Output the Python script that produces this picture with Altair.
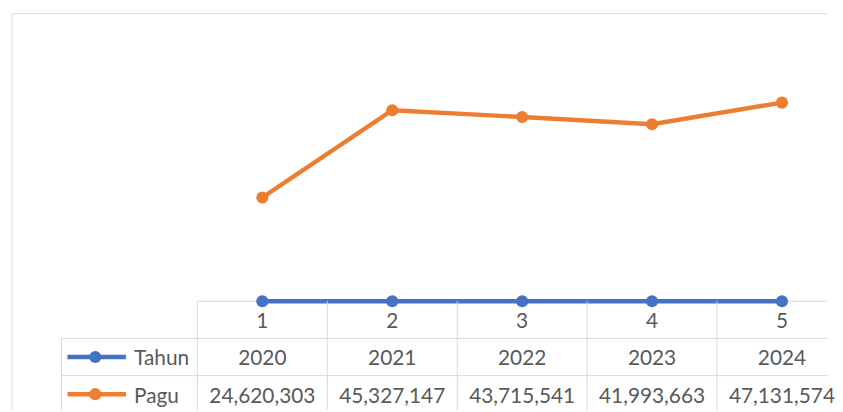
import altair as alt
import pandas as pd

# ---- data ----
idx = [1, 2, 3, 4, 5]
tahun = [2020, 2021, 2022, 2023, 2024]
pagu = [24620303, 45327147, 43715541, 41993663, 47131574]
series = ["Tahun", "Pagu"]
colors = ["#4472C4", "#ED7D31"]

# ---- layout ----
W = 827
XDOM = [-0.958, -0.958 + W / 131]
H_TOP = 294
H_TAB = 110
ROW_H = 37.5
YMAX = 69.18e6
LEG_LEFT = -0.546
FONT = "Lato"
FS = 21
TXT = "#595959"
GRID = "#d9d9d9"

long = pd.DataFrame({
    "idx": idx * 2,
    "series": ["Tahun"] * 5 + ["Pagu"] * 5,
    "value": tahun + pagu,
})

xscale = alt.Scale(domain=XDOM, nice=False, zero=False)
yscale_top = alt.Scale(domain=[0, YMAX], nice=False)
color = alt.Color("series:N", scale=alt.Scale(domain=series, range=colors), legend=None)

base_top = alt.Chart(long).encode(
    x=alt.X("idx:Q", scale=xscale, axis=None),
    y=alt.Y("value:Q", scale=yscale_top, axis=None),
    color=color,
)
lines = base_top.mark_line(strokeWidth=4.5)
points = base_top.mark_circle(size=150, opacity=1)

one = pd.DataFrame({"a": [0]})
frame_top = alt.Chart(one).mark_rule(color=GRID, strokeWidth=1).encode(
    x=alt.value(4), x2=alt.value(W), y=alt.value(4)
)
frame_left = alt.Chart(one).mark_rule(color=GRID, strokeWidth=1).encode(
    x=alt.value(4), y=alt.value(4), y2=alt.value(H_TOP)
)
tab_top = pd.DataFrame({"x0": [0.5], "x1": [XDOM[1]], "y": [0]})
table_top_rule = alt.Chart(tab_top).mark_rule(color=GRID, strokeWidth=1).encode(
    x=alt.X("x0:Q", scale=xscale, axis=None), x2="x1:Q",
    y=alt.Y("y:Q", scale=yscale_top, axis=None),
)
top = alt.layer(frame_top, frame_left, table_top_rule, lines, points).properties(width=W, height=H_TOP)

# ---- table ----
rows = ["hdr", "Tahun", "Pagu"]
row_pos = {r: i for i, r in enumerate(rows)}
yscale = alt.Scale(domain=[0, H_TAB / ROW_H], reverse=True, nice=False, zero=False)

cells = pd.DataFrame({
    "idx": idx * 3,
    "r": [row_pos["hdr"] + 0.5] * 5 + [row_pos["Tahun"] + 0.5] * 5 + [row_pos["Pagu"] + 0.5] * 5,
    "label": [str(i) for i in idx] + [str(t) for t in tahun] + [f"{p:,}" for p in pagu],
})
cell_text = alt.Chart(cells).mark_text(
    font=FONT, fontSize=FS, color=TXT, baseline="middle", dy=2.5
).encode(
    x=alt.X("idx:Q", scale=xscale, axis=None),
    y=alt.Y("r:Q", scale=yscale, axis=None),
    text="label:N",
)

hlines = pd.DataFrame({"r": [row_pos["Tahun"], row_pos["Pagu"]], "x0": [LEG_LEFT, LEG_LEFT], "x1": [XDOM[1]] * 2})
h_rules = alt.Chart(hlines).mark_rule(color=GRID, strokeWidth=1).encode(
    x=alt.X("x0:Q", scale=xscale, axis=None),
    x2="x1:Q",
    y=alt.Y("r:Q", scale=yscale, axis=None),
)

edges = [LEG_LEFT] + [i - 0.5 for i in idx]
vlines = pd.DataFrame({"x": edges, "r": [row_pos["Tahun"]] + [row_pos["hdr"]] * 5})
v_rules = alt.Chart(vlines).mark_rule(color=GRID, strokeWidth=1).encode(
    x=alt.X("x:Q", scale=xscale, axis=None),
    y=alt.Y("r:Q", scale=yscale, axis=None),
    y2=alt.value(H_TAB),
)

leg = pd.DataFrame({
    "series": series,
    "r": [row_pos[s] + 0.5 for s in series],
    "x0": [-0.50, -0.50],
    "x1": [-0.05, -0.05],
    "xc": [-0.286, -0.286],
    "xt": [0.012, 0.012],
})
leg_line = alt.Chart(leg).mark_rule(strokeWidth=4.5).encode(
    x=alt.X("x0:Q", scale=xscale, axis=None), x2="x1:Q",
    y=alt.Y("r:Q", scale=yscale, axis=None), color=color,
)
leg_dot = alt.Chart(leg).mark_circle(size=150, opacity=1).encode(
    x=alt.X("xc:Q", scale=xscale, axis=None),
    y=alt.Y("r:Q", scale=yscale, axis=None), color=color,
)
leg_text = alt.Chart(leg).mark_text(
    font=FONT, fontSize=FS, color=TXT, align="left", baseline="middle", dy=2.5
).encode(
    x=alt.X("xt:Q", scale=xscale, axis=None),
    y=alt.Y("r:Q", scale=yscale, axis=None), text="series:N",
)
frame_left2 = alt.Chart(one).mark_rule(color=GRID, strokeWidth=1).encode(
    x=alt.value(4), y=alt.value(0), y2=alt.value(H_TAB)
)

table = alt.layer(frame_left2, h_rules, v_rules, cell_text, leg_line, leg_dot, leg_text).properties(
    width=W, height=H_TAB
)

chart = alt.vconcat(top, table, spacing=0).properties(
    padding=0,
    bounds="flush",
).configure_view(stroke=None).resolve_scale(x="shared")

chart.save("out.html", embed_options={"renderer": "svg", "actions": False})
